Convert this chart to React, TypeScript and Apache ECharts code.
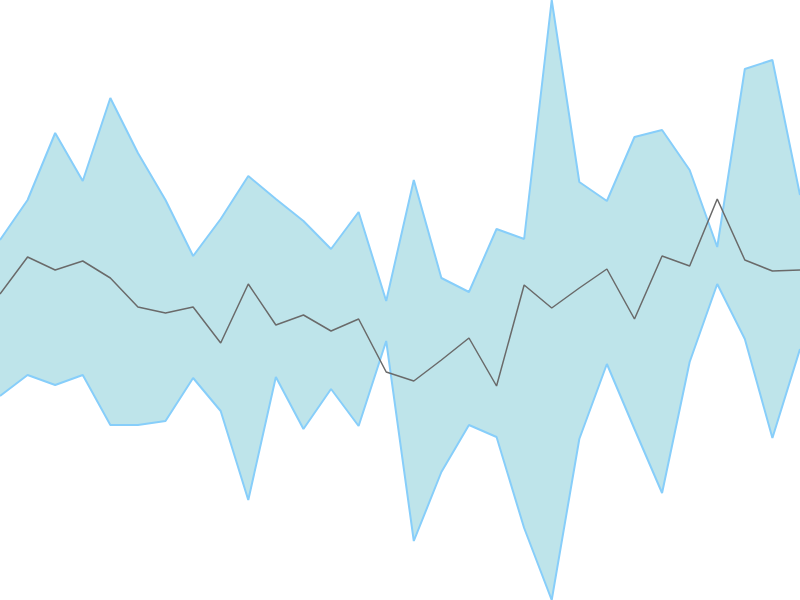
import { useEffect, useRef } from "react";
import * as echarts from "echarts";

// 30 samples, values
const days = Array.from({ length: 30 }, (_, i) => `D${i + 1}`);

const upper = [
  36.0, 40.0, 46.7, 41.9, 50.2, 44.7, 40.0, 34.4, 38.1, 42.4,
  40.1, 37.9, 35.1, 38.8, 29.9, 42.0, 32.2, 30.8, 37.1, 36.1,
  60.0, 41.8, 39.9, 46.3, 47.0, 43.0, 35.3, 53.1, 54.0, 40.5,
];

const lower = [
  20.4, 22.5, 21.5, 22.5, 17.5, 17.5, 17.9, 22.2, 18.9, 10.0,
  22.3, 17.1, 21.1, 17.4, 25.9, 5.9, 12.8, 17.5, 16.3, 7.2,
  0.0, 16.1, 23.6, 17.1, 10.7, 23.8, 31.6, 26.1, 16.2, 25.1,
];

const middle = [
  30.6, 34.3, 33.0, 33.9, 32.2, 29.3, 28.7, 29.3, 25.7, 31.6,
  27.5, 28.5, 26.9, 28.1, 22.8, 21.9, 24.0, 26.2, 21.4, 31.5,
  29.2, 31.2, 33.1, 28.1, 34.4, 33.4, 40.1, 34.0, 32.9, 33.0,
];

const bandStroke = "#87cefa";
const bandFill = "#bee4ea";
const midStroke = "#6a6a6a";

export default function App() {
  const chartRef = useRef<HTMLDivElement>(null);

  useEffect(() => {
    if (!chartRef.current) return;
    const chart = echarts.init(chartRef.current, undefined, { renderer: "svg" });

    const option: echarts.EChartsOption = {
      animation: false,
      grid: { left: 0, right: 0, top: 0, bottom: 0 },
      xAxis: {
        type: "category",
        data: days,
        boundaryGap: false,
        show: false,
      },
      yAxis: {
        type: "value",
        min: 0,
        max: 60,
        show: false,
        splitLine: { show: false },
      },
      series: [
        {
          name: "lower",
          type: "line",
          stack: "band",
          data: lower,
          showSymbol: false,
          lineStyle: { color: bandStroke, width: 2 },
        },
        {
          name: "band",
          type: "line",
          stack: "band",
          data: upper.map((u, i) => +(u - lower[i]).toFixed(1)),
          showSymbol: false,
          lineStyle: { color: bandStroke, width: 2 },
          areaStyle: { color: bandFill, opacity: 1 },
        },
        {
          name: "mean",
          type: "line",
          data: middle,
          showSymbol: false,
          lineStyle: { color: midStroke, width: 1.5 },
        },
      ],
    };

    chart.setOption(option);

    return () => {
      chart.dispose();
    };
  }, []);

  return (
    <div
      ref={chartRef}
      style={{ position: "fixed", left: 0, top: 0, width: "800px", height: "600px" }}
    />
  );
}
